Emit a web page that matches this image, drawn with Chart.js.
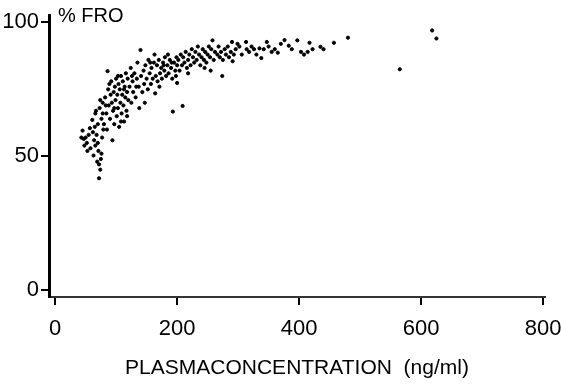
<!DOCTYPE html>
<html>
<head>
<meta charset="utf-8">
<script src="https://cdn.jsdelivr.net/npm/chart.js@4.4.0/dist/chart.umd.min.js"></script>
<style>
    body { margin: 0; background: #fff; }
    canvas { display: block; }
</style>
</head>
<body>
<canvas id="chart" width="561" height="388"></canvas>
<script>
// 血漿中濃度 (ng/ml) と % FRO の散布データ
const plasmaConc = [
    45, 48, 50, 52, 55, 47, 58, 57, 43, 53,
    61, 63, 64, 65, 66, 67, 68, 69, 70, 71, 72, 73, 74, 75, 76, 77, 78, 79, 62, 66, 70, 74, 78, 80, 72, 76,
    82, 84, 85, 86, 87, 88, 90, 91, 92, 93, 94, 95, 96, 97, 98, 99, 100, 101, 102, 103, 104, 105, 106, 107,
    108, 109, 110, 111, 112, 113, 114, 115, 116, 117, 118, 119, 120, 83, 89, 97, 103, 108, 113, 118,
    122, 124, 125, 127, 128, 130, 132, 134, 135, 137, 138, 140, 141, 143, 145, 146, 148, 150, 152, 153,
    155, 157, 158, 160, 162, 164, 165, 167, 168, 170, 172, 174, 175, 177, 179, 180, 182, 184, 186, 188,
    190, 192, 193, 195, 197, 199, 200, 209, 126, 133, 147, 156, 163, 171, 178, 185, 191, 198,
    202, 204, 206, 208, 210, 212, 214, 216, 218, 220, 222, 224, 226, 228, 230, 232, 234, 236, 238, 240,
    242, 244, 246, 248, 250, 252, 254, 256, 258, 260, 262, 274, 266, 268, 270, 272, 275, 278, 280, 283,
    285, 288, 290, 293, 296, 299, 218, 245, 255, 291, 200,
    302, 306, 313, 314, 318, 322, 326, 330, 335, 338, 342, 347, 350, 355, 360, 365, 370, 376, 383, 388,
    397, 403, 408, 414, 417, 422, 435, 440, 457, 480,
    565, 618, 625
];
const froPercent = [
    59.6, 54, 57, 55, 58, 56.5, 53, 60.5, 57, 52,
    63.6, 50.3, 56, 61, 54, 67, 58, 48, 62, 52, 41.8, 68, 45, 49, 64, 57, 70, 60, 59, 66, 55, 71, 66, 62, 47, 51,
    72, 66, 60, 81.8, 75, 69, 64, 73, 78, 70, 56, 67, 74, 62, 76, 71, 79, 65, 73, 68, 77, 61, 75, 70,
    80, 66, 73, 78, 69, 63, 76, 72, 81, 67, 74, 79, 71, 69, 77, 68, 80, 63, 75, 65,
    76, 83, 70, 78, 74, 81, 72, 79, 85, 76, 68, 89.7, 80, 74, 82, 77, 84, 79, 75, 86,
    81, 77, 83, 79, 85, 73.5, 80, 84, 78, 86, 81, 83, 79, 85, 82, 87, 80, 84, 81, 86,
    83, 79, 66.7, 85, 82, 87, 84, 68.8, 80, 76, 70, 85, 88, 76, 84, 88, 85, 80,
    86, 82, 88, 84, 87, 85, 89, 83, 86, 88, 84, 90, 87, 85, 89, 86, 91, 88, 84, 87,
    90, 86, 89, 85, 88, 91, 87, 90, 93.3, 86, 89, 80, 88, 91, 87, 89, 86, 90, 88, 91,
    87, 89, 92.7, 88, 90, 92, 81, 83, 82, 85.5, 77.4,
    91, 88, 92.7, 90, 89, 91, 90, 88, 90.3, 86.7, 90, 92.7, 91, 89, 90, 88.7, 92, 93.4, 91.3, 90,
    93.3, 89, 88, 89, 92.4, 90, 90.9, 90, 92.4, 94.3,
    82.5, 97, 94
];

// 軸の目盛り
const xTicks = [0, 200, 400, 600, 800];
const yTicks = [0, 50, 100];

// 散布点を {x, y} に組み立てる
const points = plasmaConc.map((x, i) => ({ x: x, y: froPercent[i] }));

const fontFamily = "'Liberation Sans', Arial, sans-serif";

// 左上の「% FRO」ラベルを描くプラグイン
const froLabel = {
    id: 'froLabel',
    afterDraw(chart) {
        const ctx = chart.ctx;
        ctx.save();
        ctx.fillStyle = '#000';
        ctx.font = '20px ' + fontFamily;
        ctx.textAlign = 'left';
        ctx.textBaseline = 'middle';
        ctx.fillText('% FRO', chart.chartArea.left + 9, 16);
        ctx.restore();
    }
};

new Chart(document.getElementById('chart'), {
    type: 'scatter',
    data: {
        datasets: [{
            data: points,
            backgroundColor: '#000',
            borderColor: '#000',
            pointRadius: 1.6,
            pointHoverRadius: 1.6
        }]
    },
    options: {
        responsive: false,
        animation: false,
        layout: { padding: { top: 8, right: 16, left: 0, bottom: 0 } },
        plugins: {
            legend: { display: false },
            tooltip: { enabled: false }
        },
        scales: {
            x: {
                type: 'linear',
                min: -10,
                max: 803,
                afterBuildTicks: scale => { scale.ticks = xTicks.map(v => ({ value: v })); },
                afterFit: scale => {
                    scale.height = 91;
                    // 端のラベルによる余白の自動追加をやめる
                    scale.paddingLeft = 0;
                    scale.paddingRight = 0;
                },
                grid: { drawOnChartArea: false, drawTicks: true, tickLength: 8, color: '#000', lineWidth: 2 },
                border: { display: true, color: '#333', width: 2 },
                ticks: { color: '#000', padding: 11, maxRotation: 0, font: { family: fontFamily, size: 22 } },
                title: {
                    display: true,
                    text: 'PLASMACONCENTRATION  (ng/ml)',
                    color: '#000',
                    padding: { top: 0, bottom: 7 },
                    font: { family: fontFamily, size: 21 }
                }
            },
            y: {
                type: 'linear',
                min: -2.55,
                max: 102.7,
                afterBuildTicks: scale => { scale.ticks = yTicks.map(v => ({ value: v })); },
                afterFit: scale => { scale.width = 49; },
                grid: { drawOnChartArea: false, drawTicks: true, tickLength: 8, color: '#000', lineWidth: 2 },
                border: { display: true, color: '#000', width: 3 },
                ticks: { color: '#000', padding: 2, font: { family: fontFamily, size: 22 } }
            }
        }
    },
    plugins: [froLabel]
});
</script>
</body>
</html>
